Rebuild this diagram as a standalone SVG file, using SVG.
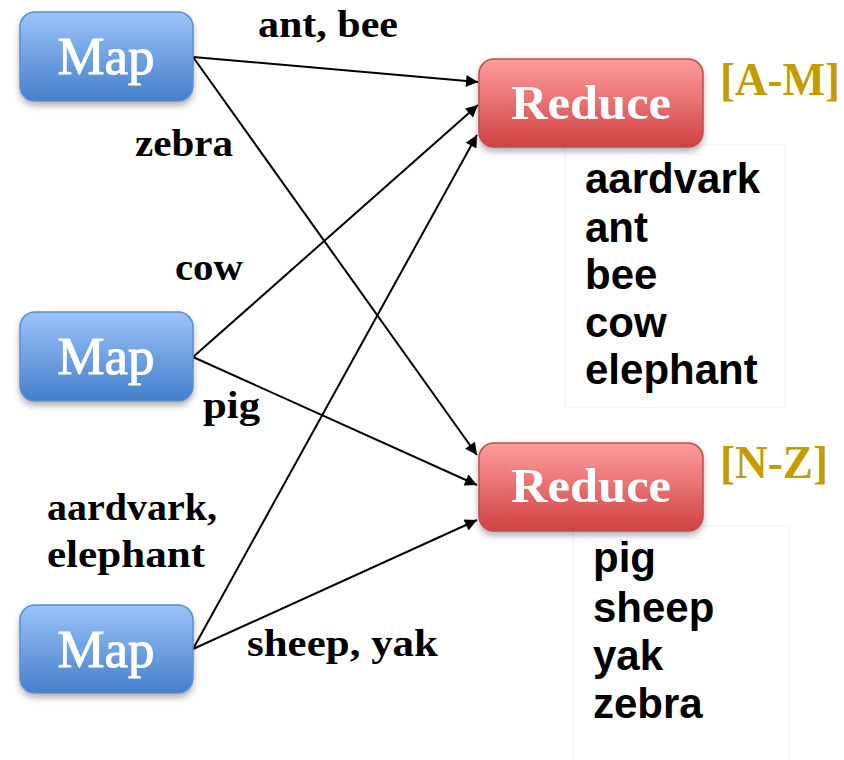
<svg xmlns="http://www.w3.org/2000/svg" width="844" height="760" viewBox="0 0 844 760">
<defs>
<linearGradient id="gMap" x1="0" y1="0" x2="0" y2="1">
<stop offset="0" stop-color="#9CC3FA"/>
<stop offset="1" stop-color="#447FCB"/>
</linearGradient>
<linearGradient id="gRed" x1="0" y1="0" x2="0" y2="1">
<stop offset="0" stop-color="#FF9D9D"/>
<stop offset="1" stop-color="#D04141"/>
</linearGradient>
<filter id="sh" x="-20%" y="-20%" width="140%" height="150%">
<feDropShadow dx="0" dy="4" stdDeviation="3" flood-color="#000" flood-opacity="0.3"/>
</filter>
<marker id="arr" viewBox="0 0 10 10" refX="10" refY="5" markerWidth="7" markerHeight="6" markerUnits="strokeWidth" orient="auto">
<path d="M0,0 L10,5 L0,10 z" fill="#000"/>
</marker>
</defs>
<style>
.map{fill:url(#gMap);stroke:#5A8ED0;stroke-width:1.5;filter:url(#sh)}
.red{fill:url(#gRed);stroke:#C24A4A;stroke-width:1.5;filter:url(#sh)}
.nt{font-family:"Liberation Serif","DejaVu Serif",serif;fill:#fff;text-anchor:middle}
.mt{stroke:#fff;stroke-width:1}
.lbl{font-family:"Liberation Serif","DejaVu Serif",serif;font-weight:bold;font-size:38px;fill:#000}
.rng{font-family:"Liberation Serif","DejaVu Serif",serif;font-weight:bold;font-size:46px;fill:#C49C00}
.lst{font-family:"Liberation Sans",Arial,sans-serif;font-weight:bold;font-size:42px;fill:#000}
.box{fill:#fff;stroke:#F0F0F0;stroke-width:1}
.edge{stroke:#000;stroke-width:2;fill:none;marker-end:url(#arr)}
</style>
<rect width="844" height="760" fill="#fff"/>
<rect class="box" x="565" y="145" width="220" height="262"/>
<rect class="box" x="573" y="526" width="216" height="240"/>
<g id="connectors">
<line class="edge" x1="193" y1="57" x2="478" y2="82"/>
<line class="edge" x1="193" y1="57" x2="477" y2="455"/>
<line class="edge" x1="193" y1="357" x2="478" y2="105"/>
<line class="edge" x1="193" y1="357" x2="477" y2="485"/>
<line class="edge" x1="193" y1="649" x2="477" y2="135"/>
<line class="edge" x1="193" y1="649" x2="477" y2="520"/>
</g>
<g id="map1"><rect class="map" x="20" y="12" width="173" height="89" rx="15"/><text class="nt mt" x="106" y="74" font-size="52" textLength="97" lengthAdjust="spacingAndGlyphs">Map</text></g>
<g id="map2"><rect class="map" x="20" y="312" width="173" height="89" rx="15"/><text class="nt mt" x="106" y="374" font-size="52" textLength="97" lengthAdjust="spacingAndGlyphs">Map</text></g>
<g id="map3"><rect class="map" x="20" y="605" width="173" height="88" rx="15"/><text class="nt mt" x="106" y="667" font-size="52" textLength="97" lengthAdjust="spacingAndGlyphs">Map</text></g>
<g id="reduce1"><rect class="red" x="479" y="59" width="224" height="88" rx="15"/><text class="nt" x="591" y="119" font-size="48" font-weight="bold" textLength="160" lengthAdjust="spacingAndGlyphs">Reduce</text></g>
<g id="reduce2"><rect class="red" x="479" y="443" width="224" height="88" rx="15"/><text class="nt" x="591" y="502" font-size="48" font-weight="bold" textLength="160" lengthAdjust="spacingAndGlyphs">Reduce</text></g>
<g id="labels">
<text class="lbl" x="258" y="37" textLength="140" lengthAdjust="spacingAndGlyphs">ant, bee</text>
<text class="lbl" x="135" y="156" textLength="98" lengthAdjust="spacingAndGlyphs">zebra</text>
<text class="lbl" x="175" y="280" textLength="68" lengthAdjust="spacingAndGlyphs">cow</text>
<text class="lbl" x="203" y="418" textLength="57" lengthAdjust="spacingAndGlyphs">pig</text>
<text class="lbl" x="47" y="520" textLength="170" lengthAdjust="spacingAndGlyphs">aardvark,</text>
<text class="lbl" x="47" y="567" textLength="158" lengthAdjust="spacingAndGlyphs">elephant</text>
<text class="lbl" x="247" y="656" textLength="191" lengthAdjust="spacingAndGlyphs">sheep, yak</text>
<text class="rng" x="720" y="95" textLength="120" lengthAdjust="spacingAndGlyphs">[A-M]</text>
<text class="rng" x="720" y="478" textLength="108" lengthAdjust="spacingAndGlyphs">[N-Z]</text>
</g>
<g id="list1">
<text class="lst" x="585" y="193">aardvark</text>
<text class="lst" x="585" y="242">ant</text>
<text class="lst" x="585" y="289">bee</text>
<text class="lst" x="585" y="337">cow</text>
<text class="lst" x="585" y="384">elephant</text>
</g>
<g id="list2">
<text class="lst" x="593" y="572">pig</text>
<text class="lst" x="593" y="622">sheep</text>
<text class="lst" x="593" y="670">yak</text>
<text class="lst" x="593" y="718">zebra</text>
</g>
</svg>
